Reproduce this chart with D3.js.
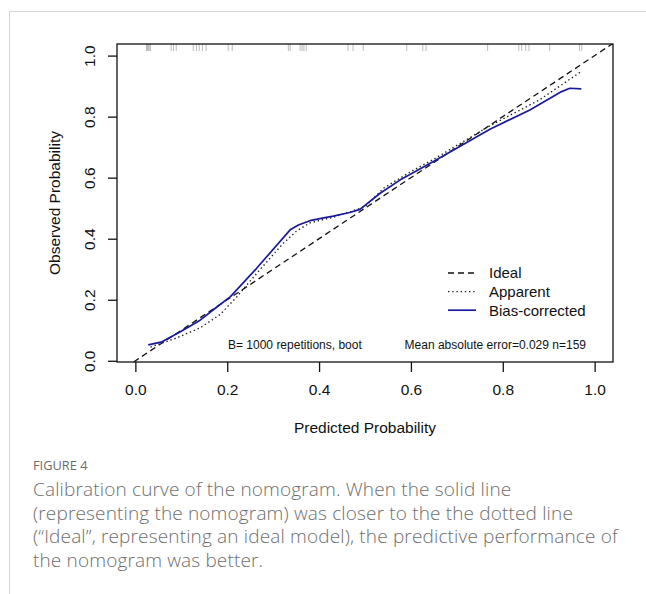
<!DOCTYPE html>
<html>
<head>
<meta charset="utf-8">
<script src="https://cdn.jsdelivr.net/npm/d3@7"></script>
<style>
  html, body { margin: 0; padding: 0; background: #fff; }
  svg { display: block; }
</style>
</head>
<body>
<div id="chart"></div>
<script>
// Calibration curve (rms::calibrate style) redrawn with d3

const xTicks = [0, 0.2, 0.4, 0.6, 0.8, 1.0];
const yTicks = [0, 0.2, 0.4, 0.6, 0.8, 1.0];

// Apparent (dotted)
const apparentX = [0.033, 0.09, 0.141, 0.185, 0.221, 0.272, 0.322, 0.351, 0.38, 0.43, 0.467, 0.5, 0.54, 0.6, 0.649, 0.772, 0.88, 0.971];
const apparentY = [0.045, 0.075, 0.108, 0.152, 0.21, 0.3, 0.385, 0.425, 0.452, 0.47, 0.488, 0.505, 0.565, 0.62, 0.66, 0.77, 0.855, 0.948];

// Bias-corrected (solid blue)
const biasX = [0.028, 0.058, 0.098, 0.141, 0.174, 0.207, 0.264, 0.337, 0.355, 0.38, 0.41, 0.431, 0.467, 0.489, 0.533, 0.576, 0.648, 0.772, 0.859, 0.928, 0.946, 0.971];
const biasY = [0.052, 0.062, 0.095, 0.133, 0.172, 0.21, 0.303, 0.429, 0.445, 0.459, 0.468, 0.474, 0.486, 0.496, 0.549, 0.592, 0.652, 0.759, 0.822, 0.882, 0.893, 0.891];

// predicted probabilities shown as a rug along the top
const rugValues = [0.024, 0.026, 0.028, 0.030, 0.033, 0.078, 0.083, 0.089, 0.126, 0.133, 0.139, 0.146, 0.154,
  0.202, 0.211, 0.333, 0.337, 0.359, 0.363, 0.367, 0.372, 0.463, 0.474, 0.496, 0.591, 0.626, 0.633,
  0.767, 0.835, 0.841, 0.85, 0.857, 0.902, 0.967, 0.972];

const legendLabels = ["Ideal", "Apparent", "Bias-corrected"];
const captionTitle = "FIGURE 4";
const captionLines = [
  "Calibration curve of the nomogram. When the solid line",
  "(representing the nomogram) was closer to the the dotted line",
  "(\u201cIdeal\u201d, representing an ideal model), the predictive performance of",
  "the nomogram was better."
];

const width = 646, height = 594;
const box = { left: 117, right: 613, top: 44, bottom: 362 };
const blue = "#1a1a9c";
const axisFont = "'Liberation Sans', Arial, sans-serif";
const captionFont = "'Open Sans', sans-serif";

const svg = d3.select("#chart").append("svg")
  .attr("width", width)
  .attr("height", height);

// page frame lines
svg.append("line").attr("x1", 10).attr("x2", width).attr("y1", 11.5).attr("y2", 11.5)
  .attr("stroke", "#d4d4d4").attr("stroke-width", 1);
svg.append("line").attr("x1", 9.5).attr("x2", 9.5).attr("y1", 11).attr("y2", height)
  .attr("stroke", "#d4d4d4").attr("stroke-width", 1);

const x = d3.scaleLinear().domain([-0.04, 1.04]).range([box.left, box.right]);
const y = d3.scaleLinear().domain([-0.004, 1.038]).range([box.bottom, box.top]);

svg.append("clipPath").attr("id", "plot-clip")
  .append("rect")
  .attr("x", box.left).attr("y", box.top)
  .attr("width", box.right - box.left).attr("height", box.bottom - box.top);

const plot = svg.append("g").attr("clip-path", "url(#plot-clip)");

// rug
plot.selectAll(".rug")
  .data(rugValues)
  .enter()
  .append("line")
  .attr("class", "rug")
  .attr("x1", (d) => x(d)).attr("x2", (d) => x(d))
  .attr("y1", box.top).attr("y2", box.top + 7)
  .attr("stroke", "#777")
  .attr("stroke-opacity", 0.5)
  .attr("stroke-width", 1);

const line = d3.line()
  .x((d) => x(d[0]))
  .y((d) => y(d[1]));

// ideal diagonal
const ideal = x.domain().map((v) => [v, v]);
plot.append("path")
  .attr("d", line(ideal))
  .attr("fill", "none")
  .attr("stroke", "#111")
  .attr("stroke-width", 1.3)
  .attr("stroke-dasharray", "6,4");

const apparent = apparentX.map((v, i) => [v, apparentY[i]]);
plot.append("path")
  .attr("d", line(apparent))
  .attr("fill", "none")
  .attr("stroke", "#222")
  .attr("stroke-width", 1.4)
  .attr("stroke-dasharray", "1.4,2.8");

const bias = biasX.map((v, i) => [v, biasY[i]]);
plot.append("path")
  .attr("d", line(bias))
  .attr("fill", "none")
  .attr("stroke", blue)
  .attr("stroke-width", 1.7)
  .attr("stroke-linejoin", "round");

// box
svg.append("rect")
  .attr("x", box.left).attr("y", box.top)
  .attr("width", box.right - box.left).attr("height", box.bottom - box.top)
  .attr("fill", "none")
  .attr("stroke", "#111")
  .attr("stroke-width", 1.3);

// axes
const xAxis = svg.append("g")
  .attr("transform", `translate(0,${box.bottom})`)
  .call(d3.axisBottom(x).tickValues(xTicks).tickSize(10).tickFormat(d3.format(".1f")));
xAxis.select(".domain").remove();
xAxis.selectAll(".tick line").attr("stroke", "#111").attr("stroke-width", 1.3);
xAxis.selectAll(".tick text")
  .attr("y", 32.5).attr("dy", null)
  .attr("fill", "#111")
  .style("font-family", axisFont).style("font-size", "15.5px");

const yAxis = svg.append("g")
  .attr("transform", `translate(${box.left},0)`)
  .call(d3.axisLeft(y).tickValues(yTicks).tickSize(9).tickFormat(d3.format(".1f")));
yAxis.select(".domain").remove();
yAxis.selectAll(".tick line").attr("stroke", "#111").attr("stroke-width", 1.3);
yAxis.selectAll(".tick text")
  .attr("transform", "rotate(-90)")
  .attr("x", 0).attr("y", -22).attr("dy", null)
  .attr("text-anchor", "middle")
  .attr("fill", "#111")
  .style("font-family", axisFont).style("font-size", "15.5px");

svg.append("text")
  .attr("x", (box.left + box.right) / 2).attr("y", 433)
  .attr("text-anchor", "middle")
  .style("font-family", axisFont).style("font-size", "15.5px")
  .attr("fill", "#111")
  .text("Predicted Probability");

svg.append("text")
  .attr("transform", `translate(59.5,${(box.top + box.bottom) / 2}) rotate(-90)`)
  .attr("text-anchor", "middle")
  .style("font-family", axisFont).style("font-size", "15.5px")
  .attr("fill", "#111")
  .text("Observed Probability");

// legend
const legendStyles = [
  { dash: "6,4", color: "#111", w: 1.3 },
  { dash: "1.4,2.8", color: "#222", w: 1.4 },
  { dash: null, color: blue, w: 1.7 }
];
const legend = svg.append("g").attr("transform", "translate(448,273)");
legendLabels.forEach((label, i) => {
  const row = legend.append("g").attr("transform", `translate(0,${i * 18.6})`);
  row.append("line")
    .attr("x1", 0).attr("x2", 28)
    .attr("stroke", legendStyles[i].color)
    .attr("stroke-width", legendStyles[i].w)
    .attr("stroke-dasharray", legendStyles[i].dash);
  row.append("text")
    .attr("x", 41).attr("y", 5.3)
    .style("font-family", axisFont).style("font-size", "15px")
    .attr("fill", "#111")
    .text(label);
});

// notes inside the plot
svg.append("text")
  .attr("x", 228).attr("y", 348.5)
  .style("font-family", axisFont).style("font-size", "12px")
  .attr("fill", "#111")
  .text("B= 1000 repetitions, boot");
svg.append("text")
  .attr("x", 586).attr("y", 348.5)
  .attr("text-anchor", "end")
  .style("font-family", axisFont).style("font-size", "12px")
  .attr("fill", "#111")
  .text("Mean absolute error=0.029 n=159");

// caption
svg.append("text")
  .attr("x", 33).attr("y", 470)
  .style("font-family", captionFont).style("font-size", "12.8px")
  .attr("fill", "#6b6b6b")
  .text(captionTitle);
svg.selectAll(".caption")
  .data(captionLines)
  .enter()
  .append("text")
  .attr("class", "caption")
  .attr("x", 33)
  .attr("y", (d, i) => 496 + i * 23.7)
  .style("font-family", captionFont).style("font-size", "19px")
  .style("font-weight", 300)
  .style("letter-spacing", "0.15px")
  .attr("fill", "#6e6e6e")
  .text((d) => d);
</script>
</body>
</html>
